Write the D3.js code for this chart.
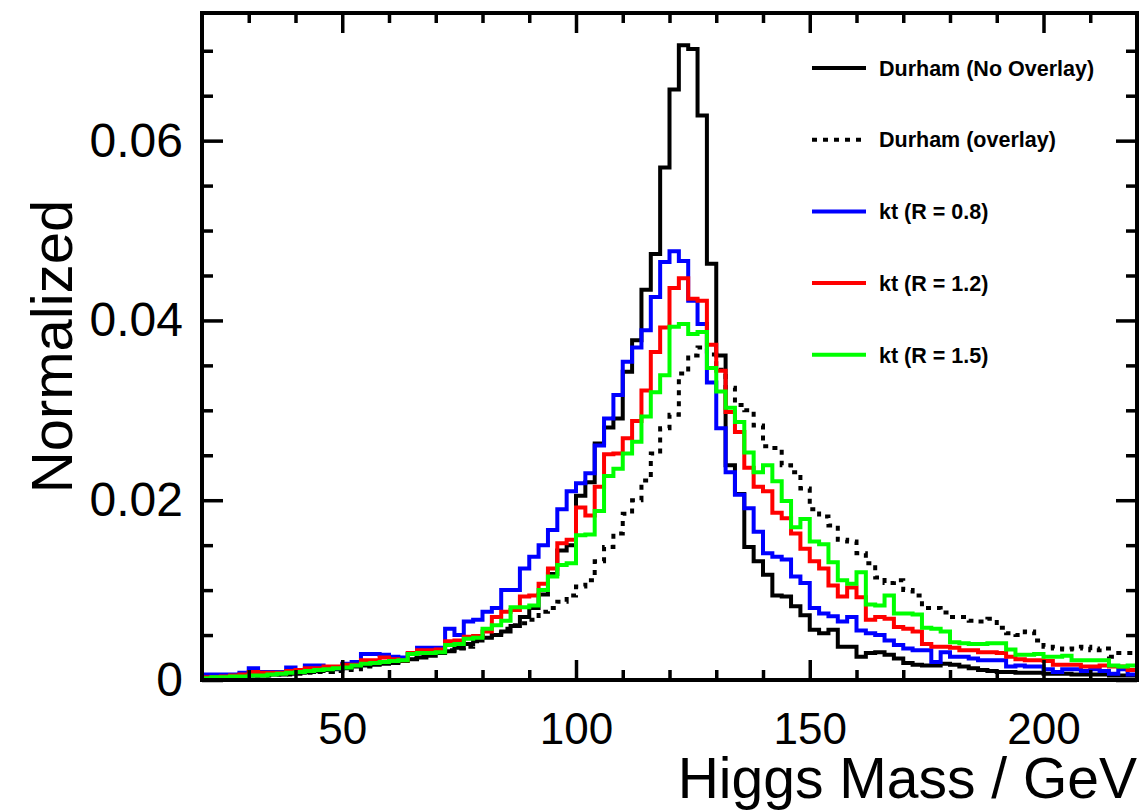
<!DOCTYPE html>
<html>
<head>
<meta charset="utf-8">
<script src="https://cdn.jsdelivr.net/npm/d3@7"></script>
<style>
  body { margin: 0; background: #fff; }
  svg { display: block; font-family: "Liberation Sans", Arial, Helvetica, sans-serif; }
</style>
</head>
<body>
<svg id="chart" width="1144" height="810"></svg>
<script>
// histogram binning: 100 bins of 2 GeV from 20 to 220
const xMin = 20, xMax = 220, binWidth = 2;
const binLow = d3.range(xMin, xMax, binWidth);

// Durham (No Overlay)
const durhamNoOverlay = [
  0.0002, 0.0003, 0.0003, 0.0004, 0.0004, 0.0005, 0.0005, 0.0006, 0.0006, 0.0007,
  0.0008, 0.0009, 0.0010, 0.0011, 0.0012, 0.0013, 0.0015, 0.0016, 0.0017, 0.0018,
  0.0019, 0.0021, 0.0023, 0.0025, 0.0027, 0.0030, 0.0032, 0.0036, 0.0040, 0.0044,
  0.0047, 0.0050, 0.0054, 0.0060, 0.0070, 0.0080, 0.0095, 0.0118, 0.0144, 0.0150,
  0.0205, 0.0220, 0.0263, 0.0281, 0.0291, 0.0343, 0.0378, 0.0434, 0.0474, 0.0570,
  0.0657, 0.0706, 0.0702, 0.0628, 0.0463, 0.0361, 0.0239, 0.0207, 0.0148, 0.0132,
  0.0117, 0.0094, 0.0093, 0.0082, 0.0072, 0.0056, 0.0052, 0.0056, 0.0037, 0.0037,
  0.0026, 0.0030, 0.0031, 0.0028, 0.0024, 0.0019, 0.0017, 0.0016, 0.0016, 0.0018,
  0.0017, 0.0015, 0.0013, 0.0011, 0.0010, 0.0009, 0.0009, 0.0008, 0.0008, 0.0008,
  0.0007, 0.0007, 0.0007, 0.0006, 0.0006, 0.0006, 0.0006, 0.0005, 0.0005, 0.0005
];

// Durham (overlay)
const durhamOverlay = [
  0.0003, 0.0003, 0.0004, 0.0004, 0.0004, 0.0005, 0.0005, 0.0005, 0.0006, 0.0006,
  0.0007, 0.0008, 0.0009, 0.0009, 0.0010, 0.0011, 0.0012, 0.0015, 0.0018, 0.0019,
  0.0020, 0.0022, 0.0024, 0.0028, 0.0030, 0.0031, 0.0033, 0.0035, 0.0037, 0.0043,
  0.0049, 0.0052, 0.0057, 0.0061, 0.0063, 0.0067, 0.0076, 0.0080, 0.0087, 0.0094,
  0.0104, 0.0111, 0.0132, 0.0148, 0.0163, 0.0185, 0.0200, 0.0222, 0.0252, 0.0280,
  0.0295, 0.0341, 0.0361, 0.0370, 0.0362, 0.0345, 0.0325, 0.0306, 0.0300, 0.0283,
  0.0260, 0.0258, 0.0239, 0.0231, 0.0213, 0.0190, 0.0182, 0.0172, 0.0156, 0.0154,
  0.0141, 0.0130, 0.0114, 0.0108, 0.0111, 0.0100, 0.0094, 0.0080, 0.0080, 0.0075,
  0.0070, 0.0070, 0.0066, 0.0065, 0.0068, 0.0058, 0.0052, 0.0050, 0.0054, 0.0044,
  0.0037, 0.0035, 0.0034, 0.0035, 0.0037, 0.0033, 0.0035, 0.0026, 0.0030, 0.0030
];

// kt (R = 0.8)
const kt08 = [
  0.0006, 0.0006, 0.0006, 0.0006, 0.0008, 0.0013, 0.0009, 0.0009, 0.0009, 0.0014,
  0.0011, 0.0016, 0.0016, 0.0014, 0.0013, 0.0018, 0.0020, 0.0029, 0.0029, 0.0028,
  0.0026, 0.0025, 0.0029, 0.0036, 0.0036, 0.0036, 0.0057, 0.0050, 0.0065, 0.0067,
  0.0076, 0.0080, 0.0100, 0.0100, 0.0124, 0.0137, 0.0150, 0.0167, 0.0190, 0.0210,
  0.0219, 0.0230, 0.0261, 0.0291, 0.0317, 0.0354, 0.0370, 0.0389, 0.0426, 0.0465,
  0.0477, 0.0466, 0.0422, 0.0396, 0.0331, 0.0280, 0.0231, 0.0206, 0.0191, 0.0165,
  0.0141, 0.0137, 0.0134, 0.0115, 0.0108, 0.0080, 0.0074, 0.0071, 0.0065, 0.0070,
  0.0055, 0.0052, 0.0050, 0.0044, 0.0039, 0.0035, 0.0033, 0.0033, 0.0020, 0.0031,
  0.0026, 0.0026, 0.0024, 0.0022, 0.0022, 0.0022, 0.0015, 0.0016, 0.0015, 0.0015,
  0.0012, 0.0009, 0.0012, 0.0012, 0.0010, 0.0012, 0.0010, 0.0007, 0.0012, 0.0006
];

// kt (R = 1.2)
const kt12 = [
  0.0003, 0.0003, 0.0004, 0.0005, 0.0006, 0.0009, 0.0008, 0.0008, 0.0008, 0.0010,
  0.0011, 0.0013, 0.0013, 0.0015, 0.0015, 0.0017, 0.0017, 0.0022, 0.0022, 0.0025,
  0.0023, 0.0022, 0.0030, 0.0033, 0.0033, 0.0034, 0.0043, 0.0044, 0.0048, 0.0049,
  0.0054, 0.0070, 0.0076, 0.0078, 0.0093, 0.0094, 0.0107, 0.0124, 0.0152, 0.0156,
  0.0192, 0.0183, 0.0215, 0.0251, 0.0252, 0.0269, 0.0288, 0.0322, 0.0365, 0.0392,
  0.0436, 0.0447, 0.0424, 0.0422, 0.0373, 0.0344, 0.0298, 0.0276, 0.0236, 0.0215,
  0.0210, 0.0186, 0.0180, 0.0163, 0.0146, 0.0132, 0.0124, 0.0105, 0.0093, 0.0103,
  0.0092, 0.0067, 0.0070, 0.0068, 0.0059, 0.0057, 0.0054, 0.0040, 0.0037, 0.0037,
  0.0036, 0.0033, 0.0033, 0.0031, 0.0031, 0.0030, 0.0026, 0.0023, 0.0022, 0.0022,
  0.0021, 0.0017, 0.0017, 0.0017, 0.0015, 0.0015, 0.0016, 0.0015, 0.0015, 0.0011
];

// kt (R = 1.5)
const kt15 = [
  0.0002, 0.0003, 0.0003, 0.0004, 0.0004, 0.0005, 0.0005, 0.0006, 0.0007, 0.0008,
  0.0009, 0.0010, 0.0011, 0.0012, 0.0013, 0.0014, 0.0016, 0.0018, 0.0019, 0.0020,
  0.0021, 0.0022, 0.0029, 0.0030, 0.0030, 0.0031, 0.0039, 0.0040, 0.0046, 0.0047,
  0.0057, 0.0061, 0.0066, 0.0081, 0.0081, 0.0083, 0.0100, 0.0115, 0.0128, 0.0130,
  0.0161, 0.0162, 0.0188, 0.0227, 0.0235, 0.0252, 0.0265, 0.0293, 0.0320, 0.0339,
  0.0393, 0.0396, 0.0385, 0.0387, 0.0347, 0.0321, 0.0303, 0.0287, 0.0253, 0.0231,
  0.0239, 0.0221, 0.0199, 0.0170, 0.0179, 0.0154, 0.0151, 0.0131, 0.0111, 0.0107,
  0.0120, 0.0084, 0.0083, 0.0094, 0.0074, 0.0074, 0.0073, 0.0058, 0.0057, 0.0054,
  0.0042, 0.0041, 0.0040, 0.0040, 0.0041, 0.0041, 0.0034, 0.0028, 0.0028, 0.0029,
  0.0026, 0.0026, 0.0027, 0.0022, 0.0022, 0.0022, 0.0022, 0.0016, 0.0015, 0.0016
];

const seriesNames = ["Durham (No Overlay)", "Durham (overlay)", "kt (R = 0.8)", "kt (R = 1.2)", "kt (R = 1.5)"];
const seriesColors = ["#000000", "#000000", "#0000ff", "#ff0000", "#00ff00"];
const seriesDash = [null, "5,6", null, null, null];
const seriesValues = [durhamNoOverlay, durhamOverlay, kt08, kt12, kt15];

const xMajorTicks = [50, 100, 150, 200];
const xMinorTicks = [30, 40, 60, 70, 80, 90, 110, 120, 130, 140, 160, 170, 180, 190, 210];
const yMajorTicks = [0, 0.02, 0.04, 0.06];
const yMinorTicks = [0.005, 0.01, 0.015, 0.025, 0.03, 0.035, 0.045, 0.05, 0.055, 0.065, 0.07];
const yMax = 0.0742;

const svg = d3.select("#chart");
const plotLeft = 202, plotRight = 1137, plotTop = 13, plotBottom = 680;

const x = d3.scaleLinear().domain([xMin, xMax]).range([plotLeft, plotRight]);
const y = d3.scaleLinear().domain([0, yMax]).range([plotBottom, plotTop]);

svg.append("rect").attr("width", 1144).attr("height", 810).attr("fill", "#fff");

// histograms as step lines
const line = d3.line()
  .x(d => x(d[0]))
  .y(d => y(d[1]))
  .curve(d3.curveStepAfter);

seriesValues.forEach((vals, i) => {
  const pts = binLow.map((b, k) => [b, vals[k]]);
  pts.push([xMax, vals[vals.length - 1]]);
  svg.append("path")
    .datum(pts)
    .attr("d", line)
    .attr("fill", "none")
    .attr("stroke", seriesColors[i])
    .attr("stroke-width", 4)
    .attr("stroke-dasharray", seriesDash[i]);
});

// axes (ticks inside the frame, like ROOT)
function addAxis(axis, tx, ty) {
  const g = svg.append("g")
    .attr("transform", `translate(${tx},${ty})`)
    .call(axis);
  g.select(".domain").remove();
  g.selectAll(".tick line").attr("stroke", "#000").attr("stroke-width", 3.5);
  return g;
}

const xb = addAxis(d3.axisBottom(x).tickValues(xMajorTicks).tickSize(-20).tickPadding(33).tickFormat(d3.format("d")), 0, plotBottom);
xb.selectAll("text").attr("font-size", 44).attr("fill", "#000");
addAxis(d3.axisBottom(x).tickValues(xMinorTicks).tickSize(-10).tickFormat(""), 0, plotBottom);
addAxis(d3.axisTop(x).tickValues(xMajorTicks).tickSize(-20).tickFormat(""), 0, plotTop);
addAxis(d3.axisTop(x).tickValues(xMinorTicks).tickSize(-10).tickFormat(""), 0, plotTop);

const yl = addAxis(d3.axisLeft(y).tickValues(yMajorTicks).tickSize(-21).tickPadding(19)
  .tickFormat(d => d === 0 ? "0" : d3.format(".2f")(d)), plotLeft, 0);
yl.selectAll("text").attr("font-size", 48).attr("fill", "#000");
addAxis(d3.axisLeft(y).tickValues(yMinorTicks).tickSize(-11).tickFormat(""), plotLeft, 0);
addAxis(d3.axisRight(y).tickValues(yMajorTicks).tickSize(-21).tickFormat(""), plotRight, 0);
addAxis(d3.axisRight(y).tickValues(yMinorTicks).tickSize(-11).tickFormat(""), plotRight, 0);

// frame
svg.append("rect")
  .attr("x", plotLeft).attr("y", plotTop)
  .attr("width", plotRight - plotLeft).attr("height", plotBottom - plotTop)
  .attr("fill", "none").attr("stroke", "#000").attr("stroke-width", 4);

// axis titles
svg.append("text")
  .attr("x", plotRight).attr("y", 798)
  .attr("text-anchor", "end")
  .attr("font-size", 57)
  .text("Higgs Mass / GeV");

svg.append("text")
  .attr("transform", `translate(72,${(plotTop + plotBottom) / 2}) rotate(-90)`)
  .attr("text-anchor", "middle")
  .attr("font-size", 58)
  .text("Normalized");

// legend
const legend = svg.append("g")
  .selectAll("g")
  .data(seriesNames)
  .enter().append("g")
  .attr("transform", (d, i) => `translate(812,${68 + i * 71.7})`);

legend.append("line")
  .attr("x1", 0).attr("x2", 54)
  .attr("stroke", (d, i) => seriesColors[i])
  .attr("stroke-width", 4)
  .attr("stroke-dasharray", (d, i) => seriesDash[i]);

legend.append("text")
  .attr("x", 67)
  .attr("dy", "0.36em")
  .attr("font-size", 21.5)
  .attr("font-weight", "bold")
  .text(d => d);
</script>
</body>
</html>
